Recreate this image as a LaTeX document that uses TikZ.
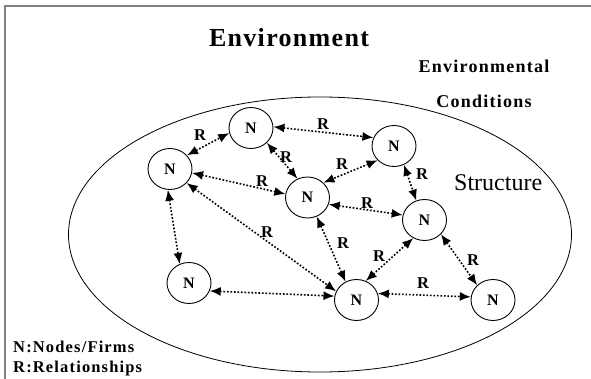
\documentclass[tikz,border=0pt]{standalone}
\usepackage{fontspec}
\setmainfont{Liberation Serif}
\newfontfamily\spacedA[LetterSpace=5]{Liberation Serif}
\newfontfamily\spacedB[LetterSpace=7]{Liberation Serif}
\usetikzlibrary{arrows.meta,shapes.geometric}
\tikzset{
  firm/.style={draw, ellipse, line width=0.9pt, minimum width=44pt, minimum height=41pt, inner sep=0pt,
    font=\fontsize{16}{16}\selectfont\bfseries},
  rel/.style={line width=1.6pt, dash pattern=on 1.7pt off 1.8pt,
    {Latex[length=11pt,width=9pt]}-{Latex[length=11pt,width=9pt]}},
  rlab/.style={font=\fontsize{16.5}{16}\selectfont\bfseries, inner sep=0pt},
  title/.style={font=\fontsize{26}{28}\selectfont\spacedA\bfseries, inner sep=0pt},
  sub/.style={font=\fontsize{18}{20}\selectfont\spacedB\bfseries, inner sep=0pt},
  legend/.style={font=\fontsize{16.5}{18}\selectfont\spacedB\bfseries, inner sep=0pt},
  struct/.style={font=\fontsize{24}{26}\selectfont, inner sep=0pt},
}
\begin{document}
\begin{tikzpicture}[x=1pt,y=-1pt]
\useasboundingbox (0,0) rectangle (591,379);
% frame
\draw[gray, line width=1.3pt] (5,379) -- (5,6) -- (591,6);
% structure
\draw[line width=0.8pt] (320,234.5) ellipse [x radius=251.5, y radius=137.5];
% texts
\node[title, anchor=base] (env) at (289,47) {Environment};
\node[sub, anchor=base] (ec1) at (484,73) {Environmental};
\node[sub, anchor=base] (ec2) at (484,108) {Conditions};
\node[struct, anchor=base west] (st) at (454,191) {Structure};
\node[legend, anchor=base west] (lg1) at (13,352) {N:Nodes/Firms};
\node[legend, anchor=base west] (lg2) at (13,372) {R:Relationships};
% firms
\node[firm] (n1) at (251,128) {N};
\node[firm] (n2) at (170,169) {N};
\node[firm] (n3) at (394,146) {N};
\node[firm] (n4) at (307.5,197.5) {N};
\node[firm] (n5) at (424.5,220) {N};
\node[firm] (n6) at (189,283) {N};
\node[firm] (n7) at (356.5,300) {N};
\node[firm] (n8) at (493,300) {N};
% relationships
\draw[rel] (n1.3) -- (n3.158);
\draw[rel] (n2.39) -- (n1.193);
\draw[rel] (n1.-43) -- (n4.118);
\draw[rel] (n2.-10) -- (n4.171);
\draw[rel] (n3.221) -- (n4.43);
\draw[rel] (n3.-62) -- (n5.113);
\draw[rel] (n4.-18) -- (n5.167);
\draw[rel] (n2.-96) -- (n6.116);
\draw[rel] (n2.-40) -- (n7.157);
\draw[rel] (n4.-64) -- (n7.121);
\draw[rel] (n5.-122) -- (n7.64);
\draw[rel] (n6.-21) -- (n7.170);
\draw[rel] (n7.17) -- (n8.172);
\draw[rel] (n5.-41) -- (n8.137);
% labels
\node[rlab] (r1) at (323,124) {R};
\node[rlab] (r2) at (200,135) {R};
\node[rlab] (r3) at (286,157) {R};
\node[rlab] (r4) at (262,181) {R};
\node[rlab] (r5) at (342,164) {R};
\node[rlab] (r6) at (422,174) {R};
\node[rlab] (r7) at (367,203) {R};
\node[rlab] (r8) at (267,232) {R};
\node[rlab] (r9) at (343,243) {R};
\node[rlab] (r10) at (379,256) {R};
\node[rlab] (r11) at (423,283) {R};
\node[rlab] (r12) at (473,260) {R};
\end{tikzpicture}
\end{document}
